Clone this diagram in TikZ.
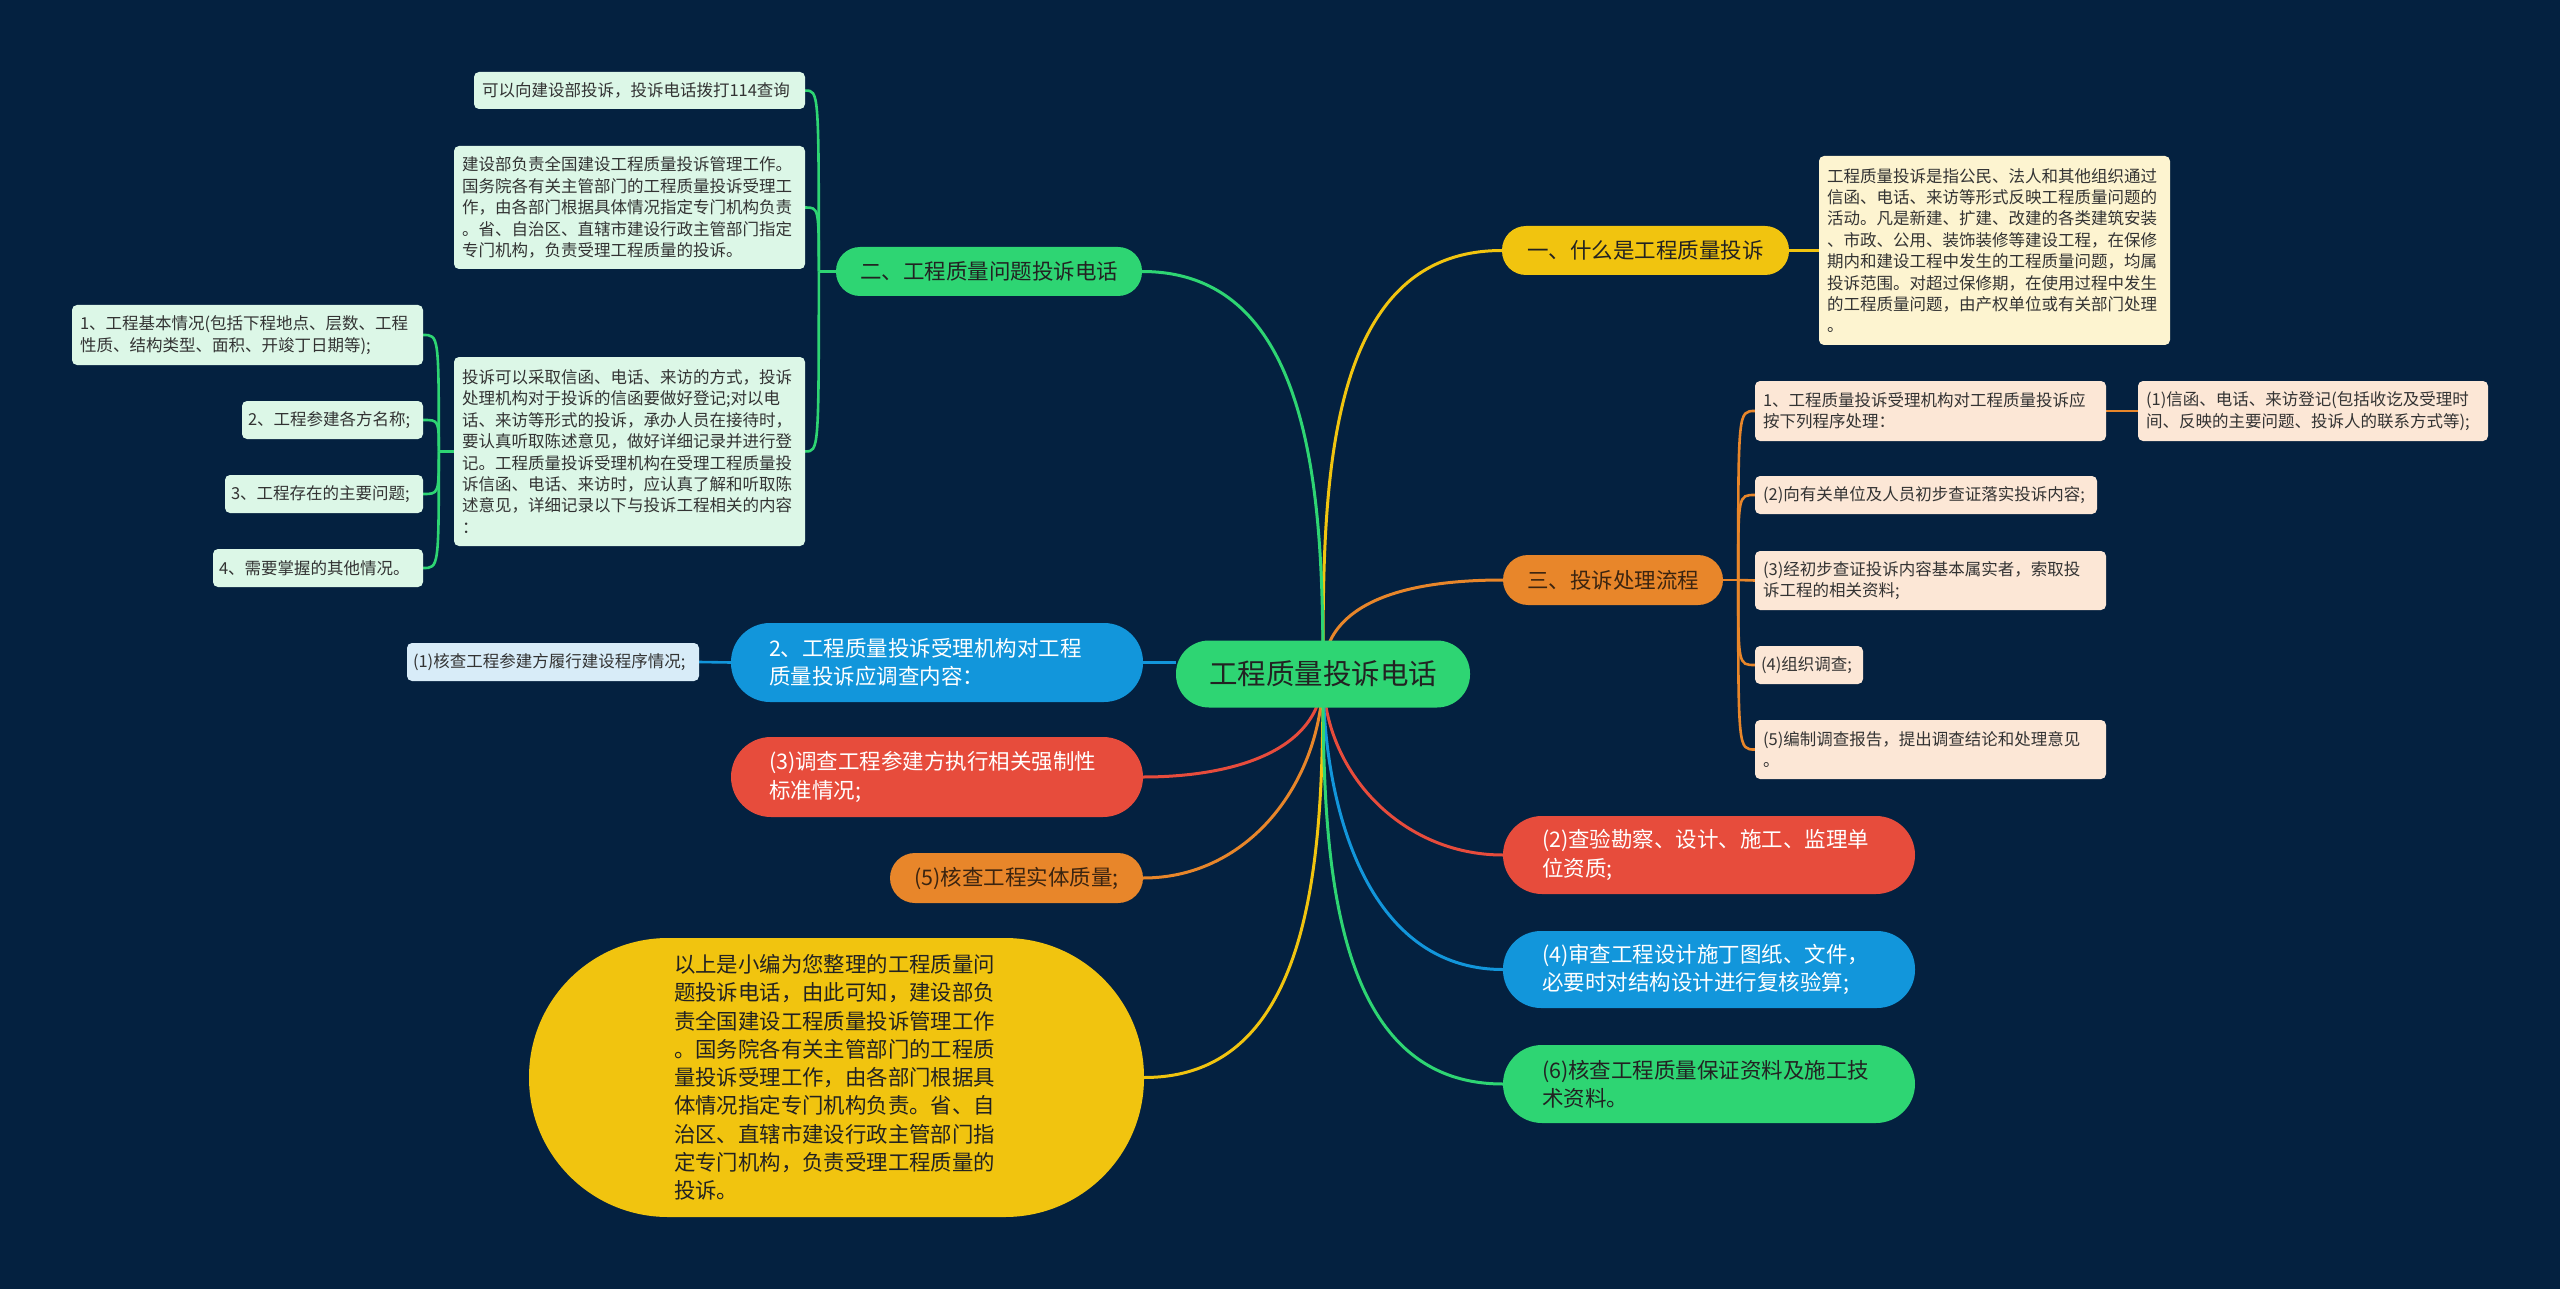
\documentclass[tikz,border=0pt]{standalone}
\usepackage{fontspec}
\setmainfont{Noto Sans CJK SC}
\usetikzlibrary{calc}
\definecolor{bgc}{HTML}{042140}
\definecolor{cgreen}{HTML}{2ED573}
\definecolor{cyellow}{HTML}{F1C40F}
\definecolor{corange}{HTML}{E8862A}
\definecolor{cred}{HTML}{E74C3C}
\definecolor{cblue}{HTML}{1296DB}
\definecolor{pgreen}{HTML}{DCF7E7}
\definecolor{pyellow}{HTML}{FDF4D0}
\definecolor{porange}{HTML}{FCE7D6}
\definecolor{pblue}{HTML}{D8ECF8}
\definecolor{tdark}{HTML}{222222}
\definecolor{tbrown}{HTML}{3B2410}
\definecolor{tleaf}{HTML}{333333}
\pgfdeclarelayer{back}
\pgfdeclarelayer{lines}
\pgfsetlayers{back,lines,main}
\begin{document}
\begin{tikzpicture}[x=1pt,y=-1pt,
  conn/.style={line width=3pt},
  sub/.style={line width=2.6pt},
  leaf/.style={rounded corners=5pt, inner ysep=0pt, inner xsep=8pt, text=tleaf,
    font=\fontsize{16.5}{21.4}\selectfont, align=left},
  shortleaf/.style={leaf, inner xsep=6pt},
  pilltext/.style={inner ysep=0pt, font=\fontsize{21.5}{28.3}\selectfont},
  twoline/.style={pilltext, align=left, inner xsep=38pt, text width=336pt},
]
\useasboundingbox (0,0) rectangle (2560,1289);
\begin{pgfonlayer}{back}
\fill[bgc] (0,0) rectangle (2560,1289);
\end{pgfonlayer}

% root
\node[fill=cgreen, text=tdark, minimum width=294pt, minimum height=67pt, rounded corners=33pt,
  font=\fontsize{28.5}{34}\selectfont, inner sep=0pt] (root) at (1323,674) {工程质量投诉电话};

% right side
\node[pilltext, fill=cyellow, text=tdark, minimum width=287pt, minimum height=49pt, rounded corners=24pt] (p1) at (1645.5,250.5) {一、什么是工程质量投诉};
\node[leaf, fill=pyellow, text width=335pt, minimum height=189pt] (y1) at (1994.5,250.5)
 {工程质量投诉是指公民、法人和其他组织通过\\信函、电话、来访等形式反映工程质量问题的\\活动。凡是新建、扩建、改建的各类建筑安装\\、市政、公用、装饰装修等建设工程，在保修\\期内和建设工程中发生的工程质量问题，均属\\投诉范围。对超过保修期，在使用过程中发生\\的工程质量问题，由产权单位或有关部门处理\\。};

\node[pilltext, fill=corange, text=tbrown, minimum width=220pt, minimum height=50pt, rounded corners=25pt] (p3) at (1613,580) {三、投诉处理流程};
\node[leaf, fill=porange, text width=335pt, minimum height=60pt] (o1) at (1930.5,411)
 {1、工程质量投诉受理机构对工程质量投诉应\\按下列程序处理：};
\node[leaf, fill=porange, text width=334pt, minimum height=60pt] (o1a) at (2313,411)
 {(1)信函、电话、来访登记(包括收讫及受理时\\间、反映的主要问题、投诉人的联系方式等);};
\node[leaf, fill=porange, text width=326pt, minimum height=38pt] (o2) at (1926,495)
 {(2)向有关单位及人员初步查证落实投诉内容;};
\node[leaf, fill=porange, text width=335pt, minimum height=59pt] (o3) at (1930.5,580.5)
 {(3)经初步查证投诉内容基本属实者，索取投\\诉工程的相关资料;};
\node[shortleaf, fill=porange, text width=96pt, minimum height=38pt] (o4) at (1809,665)
 {(4)组织调查;};
\node[leaf, fill=porange, text width=335pt, minimum height=59pt] (o5r) at (1930.5,749.5)
 {(5)编制调查报告，提出调查结论和处理意见\\。};

\node[twoline, inner xsep=39pt, text width=334pt, fill=cred, text=white, minimum height=78pt, rounded corners=39pt] (r2) at (1709,855)
 {(2)查验勘察、设计、施工、监理单\\位资质;};
\node[twoline, inner xsep=39pt, text width=334pt, fill=cblue, text=white, minimum height=77pt, rounded corners=38pt] (b4) at (1709,969.5)
 {(4)审查工程设计施丁图纸、文件，\\必要时对结构设计进行复核验算;};
\node[twoline, inner xsep=39pt, text width=334pt, fill=cgreen, text=tdark, minimum height=78pt, rounded corners=39pt] (g6) at (1709,1084)
 {(6)核查工程质量保证资料及施工技\\术资料。};

% left side
\node[pilltext, fill=cgreen, text=tdark, minimum width=306pt, minimum height=49pt, rounded corners=24pt] (p2) at (989,271.5) {二、工程质量问题投诉电话};
\node[leaf, fill=pgreen, text width=315pt, minimum height=37pt] (g1) at (639.5,90.5)
 {可以向建设部投诉，投诉电话拨打114查询};
\node[leaf, fill=pgreen, text width=335pt, minimum height=123pt] (g2) at (629.5,207.5)
 {建设部负责全国建设工程质量投诉管理工作。\\国务院各有关主管部门的工程质量投诉受理工\\作，由各部门根据具体情况指定专门机构负责\\。省、自治区、直辖市建设行政主管部门指定\\专门机构，负责受理工程质量的投诉。};
\node[leaf, fill=pgreen, text width=335pt, minimum height=189pt] (g3) at (629.5,451.5)
 {投诉可以采取信函、电话、来访的方式，投诉\\处理机构对于投诉的信函要做好登记;对以电\\话、来访等形式的投诉，承办人员在接待时，\\要认真听取陈述意见，做好详细记录并进行登\\记。工程质量投诉受理机构在受理工程质量投\\诉信函、电话、来访时，应认真了解和听取陈\\述意见，详细记录以下与投诉工程相关的内容\\：};
\node[leaf, fill=pgreen, text width=335pt, minimum height=60pt] (g3a) at (247.5,335)
 {1、工程基本情况(包括下程地点、层数、工程\\性质、结构类型、面积、开竣丁日期等);};
\node[shortleaf, fill=pgreen, text width=169pt, minimum height=38pt] (g3b) at (332.5,420)
 {2、工程参建各方名称;};
\node[shortleaf, fill=pgreen, text width=186pt, minimum height=38pt] (g3c) at (324,494)
 {3、工程存在的主要问题;};
\node[shortleaf, fill=pgreen, text width=198pt, minimum height=38pt] (g3d) at (318,568)
 {4、需要掌握的其他情况。};

\node[twoline, fill=cblue, text=white, minimum height=79pt, rounded corners=39pt] (b2) at (937,662.5)
 {2、工程质量投诉受理机构对工程\\质量投诉应调查内容：};
\node[shortleaf, fill=pblue, text width=280pt, minimum height=38pt] (b2a) at (553,662)
 {(1)核查工程参建方履行建设程序情况;};
\node[twoline, fill=cred, text=white, minimum height=80pt, rounded corners=40pt] (r3) at (937,777)
 {(3)调查工程参建方执行相关强制性\\标准情况;};
\node[pilltext, fill=corange, text=tbrown, minimum width=253pt, minimum height=50pt, rounded corners=25pt] (o5) at (1016.5,878)
 {(5)核查工程实体质量;};
\node[fill=cyellow, text=tdark, minimum width=615pt, minimum height=279pt, rounded corners=139pt,
  inner xsep=145pt, inner ysep=0pt, text width=325pt, align=left,
  font=\fontsize{21.4}{28.3}\selectfont] (sum) at (836.5,1077.5)
 {以上是小编为您整理的工程质量问\\题投诉电话，由此可知，建设部负\\责全国建设工程质量投诉管理工作\\。国务院各有关主管部门的工程质\\量投诉受理工作，由各部门根据具\\体情况指定专门机构负责。省、自\\治区、直辖市建设行政主管部门指\\定专门机构，负责受理工程质量的\\投诉。};

% spine coordinates
\coordinate (s2) at ($(p2.west)+(-17,0)$);
\coordinate (s3) at ($(g3.west)+(-15,0)$);
\coordinate (s4) at ($(p3.east)+(15,0)$);

\begin{pgfonlayer}{lines}
% root connectors
\draw[conn, cyellow] (root.center) to[out=90,in=180] (p1.west);
\draw[conn, corange] (root.center) to[out=90,in=180] (p3.west);
\draw[conn, cgreen] (root.center) to[out=90,in=0] (p2.east);
\draw[conn, cblue] (b2.east) -- (root.west |- b2.east);
\draw[conn, cred] (root.center) to[out=-90,in=0] (r3.east);
\draw[conn, corange] (root.center) to[out=-90,in=0] (o5.east);
\draw[conn, cyellow] (root.center) to[out=-90,in=0] (sum.east);
\draw[conn, cred] (root.center) to[out=-90,in=180] (r2.west);
\draw[conn, cblue] (root.center) to[out=-90,in=180] (b4.west);
\draw[conn, cgreen] (root.center) to[out=-90,in=180] (g6.west);
% sub connectors
\draw[sub, cyellow] (p1.east) -- (y1.west);
\draw[sub, corange] (o1.east) -- (o1a.west);
\draw[sub, cblue] (b2.west) -- (b2a.east);
\draw[sub, cgreen] (p2.west) -- (s2);
\draw[sub, cgreen] (s2) .. controls (s2 |- g1.east) .. (g1.east);
\draw[sub, cgreen] (s2) .. controls (s2 |- g2.east) .. (g2.east);
\draw[sub, cgreen] (s2) .. controls (s2 |- g3.east) .. (g3.east);
\draw[sub, cgreen] (g3.west) -- (s3);
\draw[sub, cgreen] (s3) .. controls (s3 |- g3a.east) .. (g3a.east);
\draw[sub, cgreen] (s3) .. controls (s3 |- g3b.east) .. (g3b.east);
\draw[sub, cgreen] (s3) .. controls (s3 |- g3c.east) .. (g3c.east);
\draw[sub, cgreen] (s3) .. controls (s3 |- g3d.east) .. (g3d.east);
\draw[sub, corange] (p3.east) -- (s4);
\draw[sub, corange] (s4) .. controls (s4 |- o1.west) .. (o1.west);
\draw[sub, corange] (s4) .. controls (s4 |- o2.west) .. (o2.west);
\draw[sub, corange] (s4) -- (o3.west);
\draw[sub, corange] (s4) .. controls (s4 |- o4.west) .. (o4.west);
\draw[sub, corange] (s4) .. controls (s4 |- o5r.west) .. (o5r.west);
\end{pgfonlayer}
\end{tikzpicture}
\end{document}
